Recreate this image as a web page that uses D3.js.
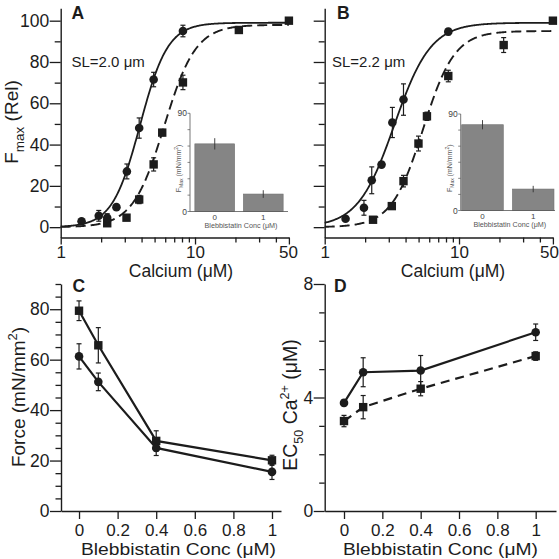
<!DOCTYPE html>
<html><head><meta charset="utf-8">
<script src="https://cdn.jsdelivr.net/npm/d3@7"></script>
<style>html,body{margin:0;padding:0;background:#fff;} svg{display:block;}</style>
</head><body><svg id="chart" width="559" height="559"></svg>
<script>
// ---------------- DATA ----------------
// Panel A (SL = 2.0 um): control (circles, solid fit) and blebbistatin (squares, dashed fit)
const aCtrlCa  = [1.43, 1.92, 2.22, 2.60, 3.11, 3.84, 4.92, 8.13];
const aCtrlF   = [2.9, 5.5, 4.5, 9.7, 27.0, 48.0, 71.5, 95.0];
const aCtrlErr = [1.0, 2.6, 2.0, 1.0, 3.6, 4.9, 3.5, 2.8];
const aBlebCa  = [2.22, 3.09, 3.84, 4.92, 5.70, 8.13, 21.2, 50];
const aBlebF   = [1.9, 4.6, 13.4, 30.4, 45.8, 70.1, 95.5, 100];
const aBlebErr = [1.0, 1.0, 2.0, 3.2, 1.5, 3.5, 1.0, 0.5];
// Hill fit parameters [max, EC50, n]
const aCtrlFit = [99, 3.9, 4.2];
const aBlebFit = [98, 5.9, 3.7];

// Panel B (SL = 2.2 um)
const bCtrlCa  = [1.43, 1.96, 2.24, 2.65, 3.19, 3.86, 8.32];
const bCtrlF   = [4.1, 9.4, 22.7, 30.3, 50.7, 61.8, 94.7];
const bCtrlErr = [1.0, 3.6, 6.5, 1.0, 7.3, 7.6, 1.5];
const bBlebCa  = [2.29, 3.16, 3.86, 4.99, 5.77, 8.32, 21.5, 50];
const bBlebF   = [3.6, 10.2, 22.3, 40.5, 53.7, 73.2, 88.2, 100];
const bBlebErr = [1.0, 1.0, 2.8, 3.6, 2.0, 2.8, 3.6, 0.5];
const bCtrlFit = [99, 3.3, 3.2];
const bBlebFit = [95, 5.4, 3.7];

// Insets (Fmax, mN/mm^2)
const insetCats = ["0", "1"];
const aInsetF   = [62, 16];
const aInsetErr = [5.2, 3.5];
const bInsetF   = [80, 20];
const bInsetErr = [4.3, 3.0];

// Calcium axis ticks
const caTicks  = [1,2,3,4,5,6,7,8,9,10,20,30,40,50];
const caLabels = {1:"1", 10:"10", 50:"50"};

// Panel C: force vs blebbistatin
const blebConc   = [0, 0.1, 0.4, 1];
const cSqForce   = [79.4, 65.7, 27.8, 20.1];
const cSqErr     = [3.9, 7.0, 4.0, 2.0];
const cCircForce = [61.3, 51.2, 25.0, 15.5];
const cCircErr   = [5.0, 3.5, 3.0, 3.0];

// Panel D: EC50 vs blebbistatin
const dCircEC = [3.81, 4.89, 4.95, 6.30];
const dCircErr = [0.10, 0.51, 0.53, 0.29];
const dSqEC = [3.17, 3.66, 4.31, 5.46];
const dSqErr = [0.20, 0.41, 0.25, 0.15];

const blebTicks = [0, 0.2, 0.4, 0.6, 0.8, 1];
const blebTickLabels = ["0", "0.2", "0.4", "0.6", "0.8", "1"];

// ---------------- DRAWING ----------------
const FONT = "'Liberation Sans', Arial, Helvetica, sans-serif";
const ink = "#1c1c1c";
const svg = d3.select("#chart").style("font-family", FONT);

function hill(p, x) {
  const xn = Math.pow(x, p[2]);
  return p[0] * xn / (xn + Math.pow(p[1], p[2]));
}

function styleAxis(g) {
  g.select(".domain").attr("stroke", ink).attr("stroke-width", 1.4);
  g.selectAll(".tick line").attr("stroke", ink).attr("stroke-width", 1.3);
  g.selectAll(".tick text").attr("fill", ink).style("font-family", FONT);
}

function drawPoints(g, xs, ys, es, xS, yS, shape) {
  const pts = xs.map((v, i) => ({x: v, y: ys[i], e: es[i]}));
  const eb = g.append("g");
  eb.selectAll("line.v").data(pts).enter().append("line")
    .attr("x1", d => xS(d.x)).attr("x2", d => xS(d.x))
    .attr("y1", d => yS(d.y - d.e)).attr("y2", d => yS(d.y + d.e))
    .attr("stroke", ink).attr("stroke-width", 1.2);
  [1, -1].forEach(s => {
    eb.selectAll(null).data(pts).enter().append("line")
      .attr("x1", d => xS(d.x) - 2.5).attr("x2", d => xS(d.x) + 2.5)
      .attr("y1", d => yS(d.y + s * d.e)).attr("y2", d => yS(d.y + s * d.e))
      .attr("stroke", ink).attr("stroke-width", 1.2);
  });
  if (shape === "circle") {
    g.selectAll(null).data(pts).enter().append("circle")
      .attr("cx", d => xS(d.x)).attr("cy", d => yS(d.y)).attr("r", 4.3).attr("fill", ink);
  } else {
    g.selectAll(null).data(pts).enter().append("rect")
      .attr("x", d => xS(d.x) - 4.2).attr("y", d => yS(d.y) - 4.2)
      .attr("width", 8.4).attr("height", 8.4).attr("fill", ink);
  }
}

function drawCurvePanel(cfg) {
  const x = d3.scaleLog().domain([1, 50]).range([cfg.x0, cfg.x1]);
  const y = d3.scaleLinear().domain([-5, 106]).range([237.5, 8.3]);
  const g = svg.append("g");

  // x axis
  const gx = g.append("g").attr("transform", "translate(0,237.5)")
    .call(d3.axisBottom(x).tickValues(caTicks).tickSizeOuter(0)
      .tickFormat(d => caLabels[d] || ""));
  styleAxis(gx);
  gx.selectAll(".tick line").attr("y2", d => caLabels[d] ? 7 : 5);
  gx.selectAll(".tick text").attr("y", 8).attr("font-size", 17)
    .attr("dx", d => d === 50 ? cfg.lastDx : 0);

  // y axis
  const yTicks = d3.range(0, 101, 10);
  const gy = g.append("g").attr("transform", `translate(${cfg.x0},0)`)
    .call(d3.axisLeft(y).tickValues(yTicks).tickSizeOuter(0)
      .tickFormat(d => (cfg.yLabels && d % 20 === 0) ? String(d) : ""));
  styleAxis(gy);
  gy.selectAll(".tick line").attr("x2", d => d % 20 === 0 ? -11 : -6);
  gy.selectAll(".tick text").attr("x", -11.5).attr("font-size", 17.5);

  // fitted curves
  const line = d3.line().x(d => x(d[0])).y(d => y(d[1]));
  const samples = d3.range(0, 301).map(i => Math.pow(50, i / 300));
  g.append("path").datum(samples.map(s => [s, hill(cfg.ctrlFit, s)]))
    .attr("d", line).attr("fill", "none").attr("stroke", ink).attr("stroke-width", 1.8);
  g.append("path").datum(samples.map(s => [s, hill(cfg.blebFit, s)]))
    .attr("d", line).attr("fill", "none").attr("stroke", ink).attr("stroke-width", 1.9)
    .attr("stroke-dasharray", "10,5");

  drawPoints(g, cfg.blebCa, cfg.blebF, cfg.blebErr, x, y, "square");
  drawPoints(g, cfg.ctrlCa, cfg.ctrlF, cfg.ctrlErr, x, y, "circle");

  // titles
  g.append("text").attr("x", cfg.titleX).attr("y", 276.5).attr("text-anchor", "middle")
    .attr("font-size", 17.5).attr("fill", ink).text("Calcium (\u03BCM)");
  g.append("text").attr("x", cfg.letterX).attr("y", 18.5).attr("font-size", 17.5)
    .attr("font-weight", "bold").attr("fill", ink).text(cfg.letter);
  g.append("text").attr("x", cfg.slX).attr("y", 66.5).attr("font-size", 15)
    .attr("fill", ink).text(cfg.sl);

  // inset
  const ins = cfg.inset;
  const iy = d3.scaleLinear().domain([0, 90]).range([ins.y0, ins.y1]);
  const ib = d3.scaleBand().domain(insetCats).range([ins.x0, ins.x1])
    .paddingInner(0.18).paddingOuter(ins.pad);
  const gi = g.append("g");
  gi.selectAll("rect").data(insetCats).enter().append("rect")
    .attr("x", d => ib(d)).attr("width", ib.bandwidth())
    .attr("y", (d, i) => iy(ins.vals[i])).attr("height", (d, i) => iy(0) - iy(ins.vals[i]))
    .attr("fill", "#858585").attr("stroke", "#6f6f6f").attr("stroke-width", 0.6);
  gi.selectAll("line.e").data(insetCats).enter().append("line")
    .attr("x1", d => ib(d) + ib.bandwidth() / 2).attr("x2", d => ib(d) + ib.bandwidth() / 2)
    .attr("y1", (d, i) => iy(ins.vals[i] - ins.errs[i])).attr("y2", (d, i) => iy(ins.vals[i] + ins.errs[i]))
    .attr("stroke", "#333").attr("stroke-width", 0.9);
  gi.append("line").attr("x1", ins.x0).attr("x2", ins.x0).attr("y1", iy(0)).attr("y2", iy(90))
    .attr("stroke", "#555").attr("stroke-width", 0.8);
  gi.append("line").attr("x1", ins.x0).attr("x2", ins.x1).attr("y1", iy(0)).attr("y2", iy(0))
    .attr("stroke", "#555").attr("stroke-width", 0.8);
  gi.selectAll("line.t").data(d3.range(0, 91, 15)).enter().append("line")
    .attr("x1", ins.x0 - 2.5).attr("x2", ins.x0).attr("y1", d => iy(d)).attr("y2", d => iy(d))
    .attr("stroke", "#555").attr("stroke-width", 0.7);
  [[0, "0"], [90, "90"]].forEach(t => gi.append("text").attr("x", ins.x0 - 3)
    .attr("y", iy(t[0]) + 3).attr("text-anchor", "end").attr("font-size", 8.5)
    .attr("fill", "#444").text(t[1]));
  gi.selectAll("text.xl").data(insetCats).enter().append("text")
    .attr("x", d => ib(d) + ib.bandwidth() / 2).attr("y", iy(0) + 8)
    .attr("text-anchor", "middle").attr("font-size", 8).attr("fill", "#444").text(d => d);
  gi.append("text").attr("x", (ins.x0 + ins.x1) / 2 + 2).attr("y", iy(0) + 16.5)
    .attr("text-anchor", "middle").attr("font-size", 7.2).attr("fill", "#555")
    .text("Blebbistatin Conc (\u03BCM)");
  const yl = gi.append("text").attr("transform", `translate(${ins.x0 - 9},${(iy(0) + iy(90)) / 2 + 6}) rotate(-90)`)
    .attr("text-anchor", "middle").attr("font-size", 7).attr("fill", "#555");
  yl.append("tspan").text("F");
  yl.append("tspan").attr("dy", 2).attr("font-size", 5).text("Max");
  yl.append("tspan").attr("dy", -2).text(" (mN/mm");
  yl.append("tspan").attr("dy", -3).attr("font-size", 5).text("2");
  yl.append("tspan").attr("dy", 3).text(")");
}

drawCurvePanel({
  x0: 60.7, x1: 288.9, yLabels: true, letter: "A", letterX: 71.5, slX: 71.5, sl: "SL=2.0 \u03BCm",
  titleX: 181, lastDx: -1, ctrlFit: aCtrlFit, blebFit: aBlebFit,
  ctrlCa: aCtrlCa, ctrlF: aCtrlF, ctrlErr: aCtrlErr, blebCa: aBlebCa, blebF: aBlebF, blebErr: aBlebErr,
  inset: {x0: 190, x1: 288, y0: 211.5, y1: 113.3, pad: 0.1, vals: aInsetF, errs: aInsetErr}
});
drawCurvePanel({
  x0: 324.7, x1: 552.9, yLabels: false, letter: "B", letterX: 337, slX: 332, sl: "SL=2.2 \u03BCm",
  titleX: 453, lastDx: -4, ctrlFit: bCtrlFit, blebFit: bBlebFit,
  ctrlCa: bCtrlCa, ctrlF: bCtrlF, ctrlErr: bCtrlErr, blebCa: bBlebCa, blebF: bBlebF, blebErr: bBlebErr,
  inset: {x0: 460.7, x1: 555, y0: 210.5, y1: 114, pad: 0.02, vals: bInsetF, errs: bInsetErr}
});

// A y title
(function () {
  const t = svg.append("text").attr("transform", "translate(17.5,122) rotate(-90)")
    .attr("text-anchor", "middle").attr("font-size", 19).attr("fill", ink);
  t.append("tspan").text("F");
  t.append("tspan").attr("dy", 6).attr("font-size", 13.5).text("max");
  t.append("tspan").attr("dy", -6).text(" (Rel)");
})();

// Panel C / D
function drawBlebPanel(cfg) {
  const x = d3.scaleLinear().domain(cfg.xd).range(cfg.xr);
  const y = d3.scaleLinear().domain(cfg.yd).range([511, 284]);
  const g = svg.append("g");
  const gx = g.append("g").attr("transform", "translate(0,511)")
    .call(d3.axisBottom(x).tickValues(blebTicks).tickSize(8).tickSizeOuter(0)
      .tickFormat((d, i) => blebTickLabels[i]));
  styleAxis(gx);
  gx.selectAll(".tick text").attr("y", 12.5).attr("font-size", 17);
  const gy = g.append("g").attr("transform", `translate(${cfg.xr[0]},0)`)
    .call(d3.axisLeft(y).tickValues(cfg.yTicks).tickSizeOuter(0)
      .tickFormat(d => cfg.yMajor.includes(d) ? String(d) : ""));
  styleAxis(gy);
  gy.selectAll(".tick line").attr("x2", d => cfg.yMajor.includes(d) ? -11 : -5.5);
  gy.selectAll(".tick text").attr("x", -11.5).attr("font-size", 17.5);

  const line = d3.line().x(d => x(d[0])).y(d => y(d[1]));
  cfg.series.forEach(s => {
    g.append("path").datum(blebConc.map((c, i) => [c, s.vals[i]])).attr("d", line)
      .attr("fill", "none").attr("stroke", ink).attr("stroke-width", 2.2)
      .attr("stroke-dasharray", s.dash || null);
    drawPoints(g, blebConc, s.vals, s.errs, x, y, s.shape);
  });
  g.append("text").attr("x", cfg.titleX).attr("y", 554.5).attr("text-anchor", "middle")
    .attr("font-size", 17).attr("textLength", 195).attr("lengthAdjust", "spacingAndGlyphs")
    .attr("fill", ink).text("Blebbistatin Conc (\u03BCM)");
  g.append("text").attr("x", cfg.letterX).attr("y", 291.5).attr("font-size", 17.5)
    .attr("font-weight", "bold").attr("fill", ink).text(cfg.letter);
}

drawBlebPanel({
  xd: [-0.0934, 1.0467], xr: [61, 281], yd: [0, 90], yTicks: d3.range(0, 91, 5),
  yMajor: [0, 20, 40, 60, 80], titleX: 178.5, letter: "C", letterX: 72.5,
  series: [
    {vals: cSqForce, errs: cSqErr, shape: "square"},
    {vals: cCircForce, errs: cCircErr, shape: "circle"}
  ]
});
drawBlebPanel({
  xd: [-0.1007, 1.106], xr: [324.7, 556], yd: [0, 8], yTicks: d3.range(0, 9, 1),
  yMajor: [0, 4, 8], titleX: 440.5, letter: "D", letterX: 334,
  series: [
    {vals: dCircEC, errs: dCircErr, shape: "circle"},
    {vals: dSqEC, errs: dSqErr, shape: "square", dash: "9,6"}
  ]
});

// C y title
(function () {
  const t = svg.append("text").attr("transform", "translate(25,397) rotate(-90)")
    .attr("text-anchor", "middle").attr("font-size", 19).attr("fill", ink);
  t.append("tspan").text("Force (mN/mm");
  t.append("tspan").attr("dy", -8).attr("font-size", 13).text("2");
  t.append("tspan").attr("dy", 8).text(")");
})();
// D y title
(function () {
  const t = svg.append("text").attr("transform", "translate(297,405) rotate(-90)")
    .attr("text-anchor", "middle").attr("font-size", 19.5).attr("fill", ink);
  t.append("tspan").text("EC");
  t.append("tspan").attr("dy", 6).attr("font-size", 12.5).text("50");
  t.append("tspan").attr("dy", -6).text(" Ca");
  t.append("tspan").attr("dy", -8).attr("font-size", 12.5).text("2+");
  t.append("tspan").attr("dy", 8).text(" (\u03BCM)");
})();
</script></body></html>
